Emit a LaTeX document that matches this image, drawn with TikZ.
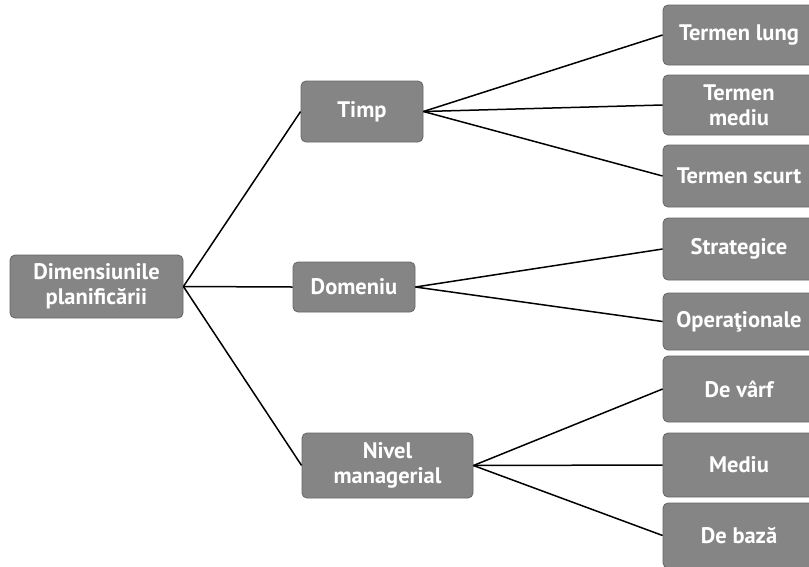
\documentclass[tikz,border=0pt]{standalone}
\usepackage{fontspec}
\setmainfont{PT Sans}
\begin{document}
\begin{tikzpicture}[x=1pt,y=-1pt,
  box/.style={draw=black!60, fill=black!48, rounded corners=5pt, line width=0.8pt,
    text=white, font=\bfseries\fontsize{22.5}{25}\selectfont, align=center,
    inner sep=1pt},
  leaf/.style={box, minimum width=152pt},
  link/.style={line width=1.5pt, black}]
\useasboundingbox (0,0) rectangle (809,566);
\begin{scope}
\clip (0,0) rectangle (809,566);
% root
\node[box, minimum width=173pt, minimum height=63pt] (root) at (96.5,286.5) {Dimensiunile\\planificării};
% second level
\node[box, minimum width=122pt, minimum height=61pt] (timp) at (362,111.5) {Timp};
\node[box, minimum width=122pt, minimum height=50pt] (dom) at (354,287) {Domeniu};
\node[box, minimum width=171pt, minimum height=65pt] (niv) at (387.5,465.5) {Nivel\\managerial};
% leaves
\node[leaf, minimum height=60pt] (tl) at (739,35) {Termen lung};
\node[leaf, minimum height=60pt] (tm) at (739,105) {Termen\\mediu};
\node[leaf, minimum height=62pt] (ts) at (739,176) {Termen scurt};
\node[leaf, minimum height=62pt] (st) at (739,249) {Strategice};
\node[leaf, minimum height=57pt] (op) at (739,321.5) {Operaţionale};
\node[leaf, minimum height=66pt] (dv) at (739,389) {De vârf};
\node[leaf, minimum height=64pt] (me) at (739,465) {Mediu};
\node[leaf, minimum height=65pt] (db) at (739,535.5) {De bază};
% connectors
\draw[link] (root.east) -- (timp.west);
\draw[link] (root.east) -- (dom.west);
\draw[link] (root.east) -- (niv.west);
\foreach \c in {tl,tm,ts} \draw[link] (timp.east) -- (\c.west);
\foreach \c in {st,op} \draw[link] (dom.east) -- (\c.west);
\foreach \c in {dv,me,db} \draw[link] (niv.east) -- (\c.west);
\end{scope}
\end{tikzpicture}
\end{document}
